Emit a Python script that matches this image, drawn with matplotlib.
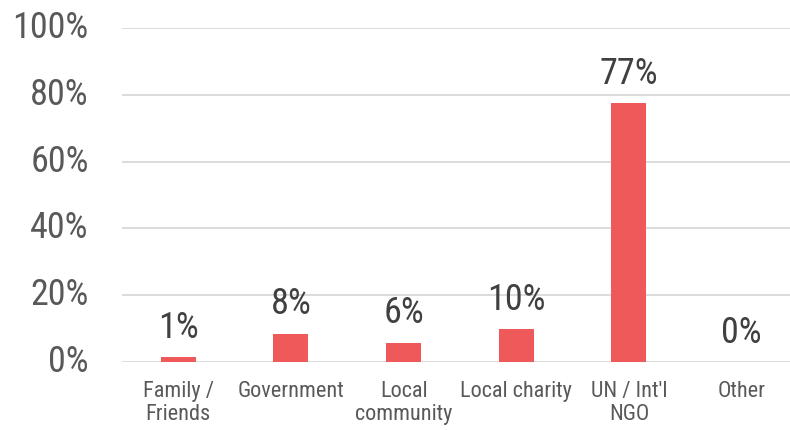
import matplotlib.pyplot as plt

categories = ["Family /\nFriends", "Government", "Local\ncommunity", "Local charity", "UN / Int'l\nNGO", "Other"]
values = [1.4, 8.5, 5.8, 9.8, 77.4, 0.0]
labels = ["1%", "8%", "6%", "10%", "77%", "0%"]
yticks = [0, 20, 40, 60, 80, 100]

plt.rcParams['font.family'] = ["Roboto Condensed", "DejaVu Sans"]

text_color = "#595959"
bar_color = "#EF5959"

fig = plt.figure(figsize=(7.9, 4.3), dpi=100)
ax = fig.add_axes([0.1544, 0.1581, 0.8456, 0.7768])

x = list(range(len(categories)))
ax.bar(x, values, width=0.31, color=bar_color, zorder=3)

for xi, v, lab in zip(x, values, labels):
    ax.text(xi, v + 5.8, lab, ha='center', va='baseline', fontsize=26, color="#404040")

ax.set_ylim(0, 100)
ax.set_xlim(-0.5, 5.43)
ax.set_yticks(yticks)
ax.set_yticklabels([f"{t}%" for t in yticks], fontsize=26, color=text_color, va='center')
ax.set_xticks(x)
ax.set_xticklabels(categories, fontsize=16, color=text_color, linespacing=1.12)
ax.tick_params(axis='y', length=0, pad=24)
ax.tick_params(axis='x', length=0, pad=14)
ax.grid(axis='y', color="#D9D9D9", linewidth=1.3, zorder=0)
for s in ax.spines.values():
    s.set_visible(False)

fig.savefig("out.png", dpi=100)
